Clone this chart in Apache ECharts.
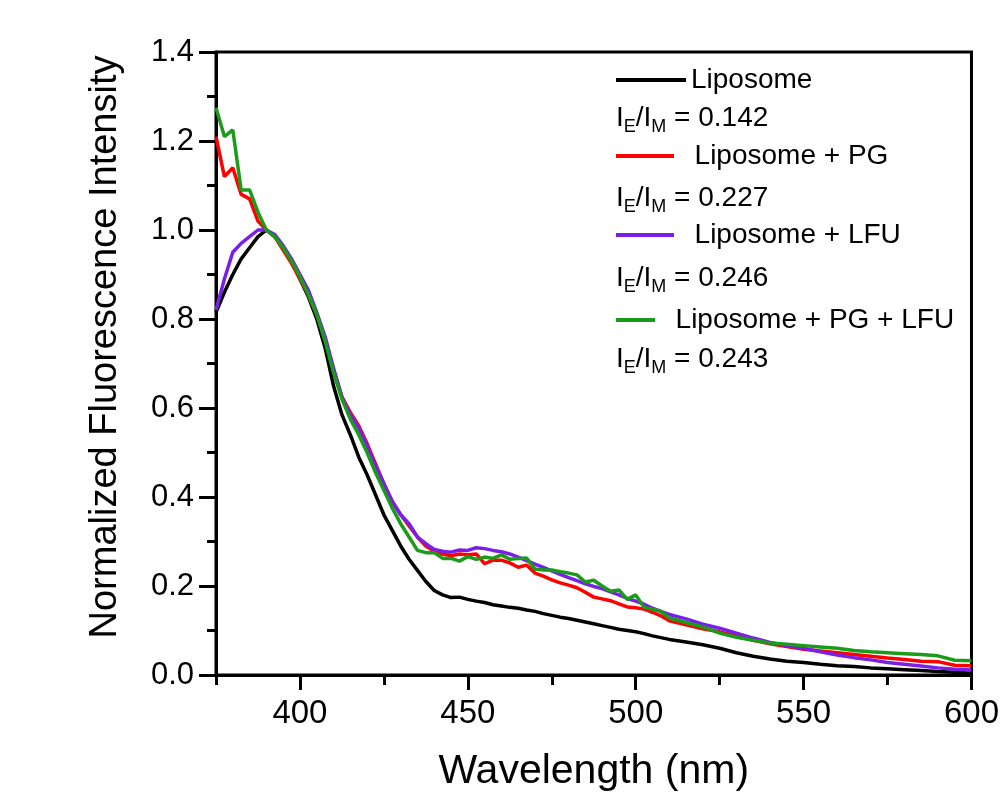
<!DOCTYPE html>
<html>
<head>
<meta charset="utf-8">
<script src="https://cdn.jsdelivr.net/npm/echarts@6/dist/echarts.min.js"></script>
<style>
html,body{margin:0;padding:0;background:#fff;}
#chart{width:1002px;height:803px;}
</style>
</head>
<body>
<div id="chart"></div>
<script>
// ---- data ----
const wavelengths = [
  375,377.5,380,382.5,385,387.5,390,392.5,395,397.5,
  400,402.5,405,407.5,410,412.5,415,417.5,420,422.5,
  425,427.5,430,432.5,435,437.5,440,442.5,445,447.5,
  450,452.5,455,457.5,460,462.5,465,467.5,470,472.5,
  475,477.5,480,482.5,485,487.5,490,492.5,495,497.5,
  500,502.5,505,507.5,510,515,520,525,530,535,
  540,545,550,555,560,565,570,575,580,585,
  590,595,600
];
const liposome = [
  0.815,0.86,0.90,0.935,0.96,0.985,1.0,0.985,0.96,0.93,
  0.89,0.85,0.80,0.735,0.65,0.585,0.54,0.49,0.45,0.405,
  0.36,0.325,0.29,0.26,0.235,0.21,0.19,0.18,0.174,0.175,
  0.170,0.166,0.163,0.158,0.155,0.152,0.150,0.146,0.143,0.138,
  0.134,0.130,0.127,0.123,0.119,0.115,0.111,0.107,0.103,0.100,
  0.097,0.093,0.088,0.084,0.080,0.074,0.068,0.060,0.050,0.042,
  0.036,0.031,0.028,0.024,0.021,0.019,0.016,0.014,0.012,0.010,
  0.008,0.006,0.004
];
const liposomePG = [
  1.21,1.12,1.14,1.08,1.07,1.02,1.0,0.985,0.955,0.925,
  0.89,0.855,0.81,0.755,0.685,0.625,0.59,0.56,0.52,0.475,
  0.43,0.39,0.36,0.335,0.31,0.29,0.278,0.272,0.268,0.272,
  0.270,0.272,0.250,0.258,0.258,0.252,0.242,0.247,0.229,0.222,
  0.214,0.207,0.202,0.196,0.186,0.175,0.171,0.167,0.160,0.153,
  0.151,0.148,0.141,0.133,0.122,0.113,0.104,0.097,0.088,0.078,
  0.070,0.064,0.058,0.054,0.050,0.046,0.042,0.038,0.035,0.031,
  0.030,0.022,0.021
];
const liposomeLFU = [
  0.82,0.89,0.95,0.97,0.985,1.0,1.0,0.99,0.965,0.935,
  0.90,0.865,0.815,0.76,0.69,0.625,0.585,0.555,0.515,0.47,
  0.43,0.39,0.36,0.34,0.31,0.295,0.282,0.278,0.276,0.281,
  0.280,0.286,0.284,0.280,0.277,0.272,0.265,0.257,0.249,0.242,
  0.234,0.226,0.219,0.212,0.205,0.199,0.194,0.187,0.180,0.172,
  0.166,0.159,0.150,0.143,0.136,0.126,0.114,0.105,0.094,0.083,
  0.073,0.066,0.060,0.052,0.045,0.039,0.034,0.028,0.024,0.020,
  0.016,0.013,0.011
];
const liposomePGLFU = [
  1.275,1.21,1.225,1.09,1.09,1.04,1.0,0.985,0.96,0.93,
  0.895,0.855,0.81,0.75,0.68,0.62,0.575,0.54,0.50,0.455,
  0.415,0.375,0.34,0.31,0.28,0.275,0.275,0.262,0.262,0.256,
  0.266,0.260,0.265,0.262,0.270,0.260,0.262,0.263,0.238,0.236,
  0.236,0.232,0.229,0.225,0.209,0.213,0.200,0.188,0.191,0.170,
  0.180,0.152,0.148,0.143,0.128,0.118,0.108,0.094,0.085,0.078,
  0.072,0.069,0.066,0.063,0.060,0.055,0.052,0.050,0.048,0.046,
  0.043,0.033,0.032
];
const seriesNames = ['Liposome', 'Liposome + PG', 'Liposome + LFU', 'Liposome + PG + LFU'];
const ratioValues = ['0.142', '0.227', '0.246', '0.243'];
const yTicks = [0, 0.2, 0.4, 0.6, 0.8, 1.0, 1.2, 1.4];
const xMajorTicks = [400, 450, 500, 550, 600];
const xTitle = 'Wavelength (nm)';
const yTitle = 'Normalized Fluorescence Intensity';

// ---- presentation ----
const colors = ['#000000', '#ff0000', '#7a1fe8', '#1a9c1a'];
const FONT = "'Liberation Sans', Arial, sans-serif";
const allValues = [liposome, liposomePG, liposomeLFU, liposomePGLFU];

const chart = echarts.init(document.getElementById('chart'), null, {renderer: 'canvas'});

const series = seriesNames.map((name, i) => ({
  name: name,
  type: 'line',
  xAxisIndex: 0,
  yAxisIndex: 0,
  symbol: 'none',
  silent: true,
  animation: false,
  lineStyle: {color: colors[i], width: 3.5},
  itemStyle: {color: colors[i]},
  data: wavelengths.map((w, k) => [w, allValues[i][k]])
}));

// legend layout (line sample width, top, leading spaces)
const legendLayout = [
  {w: 70, top: 65, pad: ''},
  {w: 58, top: 141, pad: '  '},
  {w: 58, top: 220, pad: '  '},
  {w: 39, top: 305, pad: '  '}
];
const legends = seriesNames.map((name, i) => ({
  data: [{name: name, icon: 'rect'}],
  left: 616,
  top: legendLayout[i].top,
  padding: 0,
  itemWidth: legendLayout[i].w,
  itemHeight: 4,
  selectedMode: false,
  formatter: n => legendLayout[i].pad + n,
  itemStyle: {color: colors[i], borderWidth: 0},
  textStyle: {fontFamily: FONT, fontSize: 28, color: '#000', lineHeight: 30}
}));

const ratioTops = [104, 184, 264, 345];
const graphics = ratioValues.map((v, i) => ({
  type: 'text',
  left: 616,
  top: ratioTops[i],
  silent: true,
  style: {
    text: '{n|I}{s|E}{n|/I}{s|M}{n| = ' + v + '}',
    fill: '#000',
    rich: {
      n: {fontFamily: FONT, fontSize: 28, lineHeight: 36, verticalAlign: 'middle', fill: '#000'},
      s: {fontFamily: FONT, fontSize: 18, lineHeight: 10, verticalAlign: 'bottom', fill: '#000'}
    }
  }
}));
graphics.push({
  type: 'text',
  x: 106,
  y: 347,
  rotation: Math.PI / 2,
  silent: true,
  style: {
    text: yTitle,
    fill: '#000',
    font: "38px 'Liberation Sans', Arial, sans-serif",
    align: 'center',
    verticalAlign: 'middle'
  }
});

const option = {
  backgroundColor: '#ffffff',
  animation: false,
  grid: {
    left: 216, right: 26, top: 52, bottom: 128,
    show: true, borderColor: '#000', borderWidth: 3, backgroundColor: 'transparent'
  },
  legend: legends,
  xAxis: [
    {
      type: 'value', min: 375, max: 600, interval: 25,
      position: 'bottom',
      name: xTitle,
      nameLocation: 'middle',
      nameGap: 76,
      nameTextStyle: {fontFamily: FONT, fontSize: 41, color: '#000'},
      axisLine: {show: true, lineStyle: {color: '#000', width: 3}},
      axisTick: {show: true, inside: false, length: 10, lineStyle: {color: '#000', width: 3}},
      axisLabel: {show: false},
      splitLine: {show: false}
    },
    {
      type: 'value', min: 375, max: 600, interval: 25,
      position: 'bottom',
      axisLine: {show: false},
      axisTick: {show: true, inside: false, length: 15, customValues: xMajorTicks, lineStyle: {color: '#000', width: 3}},
      axisLabel: {show: true, margin: 22, customValues: xMajorTicks, fontFamily: FONT, fontSize: 33, color: '#000'},
      splitLine: {show: false}
    }
  ],
  yAxis: {
    type: 'value', min: 0, max: 1.4, interval: 0.2,
    axisLine: {show: true, lineStyle: {color: '#000', width: 3}},
    axisTick: {show: true, inside: false, length: 17, lineStyle: {color: '#000', width: 3}},
    minorTick: {show: true, splitNumber: 2, length: 9, lineStyle: {color: '#000', width: 3}},
    axisLabel: {
      margin: 22, fontFamily: FONT, fontSize: 31, color: '#000',
      customValues: yTicks,
      formatter: v => v.toFixed(1)
    },
    splitLine: {show: false}
  },
  graphic: graphics,
  series: series
};
chart.setOption(option);
</script>
</body>
</html>
